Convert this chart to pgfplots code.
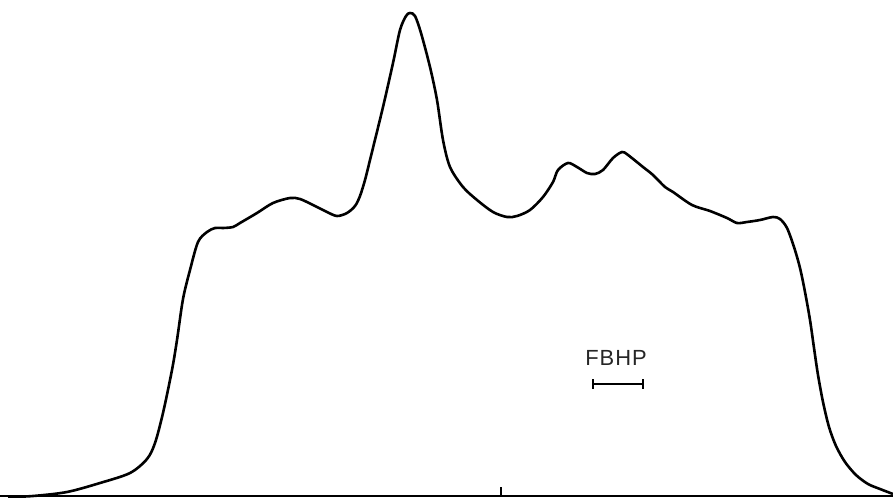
\documentclass[border=0pt]{standalone}
\usepackage{fontspec}
\setmainfont{Liberation Sans}
\usepackage{pgfplots}
\pgfplotsset{compat=1.18}
\begin{document}
\begin{tikzpicture}
\begin{axis}[name=ax,width=893bp,height=498bp,scale only axis,hide axis,
  xmin=0,xmax=893,ymin=0,ymax=498,y dir=reverse,clip=false,unbounded coords=jump]
% baseline and tick
\addplot[black,line width=1.6bp] coordinates {(0,496) (893,496)};
\addplot[black,line width=2.2bp] coordinates {(501,487) (501,496)};
% spectrum curve
\addplot[black,line width=2.6bp,smooth,tension=0.5] coordinates {
(8,497)(33,496)(67,492)(100,483)(130,473)(147,459)(155,443)(163,413)(172,370)(177,340)
(183,299)(190,270)(198,242)(207,232)(215,228)(223,228)(233,227)(240,223)(257,213)(273,203)
(290,198)(300,199)(313,205)(327,212)(337,216)(347,213)(355,206)(360,196)(365,180)(370,160)
(383,107)(393,63)(400,30)(406,16)(410,13)(415,16)(421,33)(430,67)(437,100)(443,140)
(450,167)(463,187)(477,200)(493,212)(507,217)(517,216)(530,210)(543,197)(553,182)(558,170)
(568,163)(577,167)(587,173)(595,174)(603,170)(613,158)(622,152)(628,155)(643,167)(653,175)
(665,187)(673,192)(692,205)(710,211)(727,218)(737,223)(747,222)(760,220)(773,217)(780,219)
(787,228)(794,247)(800,268)(805,292)(810,320)(814,348)(818,375)(823,402)(829,427)(836,446)
(845,462)(856,475)(868,484)(880,489)(893,494)};
% scale bar
\addplot[black,line width=1.6bp] coordinates {(593,379)(593,389) (nan,nan) (593,384)(643,384) (nan,nan) (643,379)(643,389)};
\node[font=\fontsize{22}{24}\selectfont,text=black!85] at (axis cs:616,358) {F\kern1ptB\kern1ptH\kern1ptP};
\end{axis}
\pgfresetboundingbox
\path[use as bounding box] (ax.south west) rectangle (ax.north east);
\end{tikzpicture}
\end{document}
